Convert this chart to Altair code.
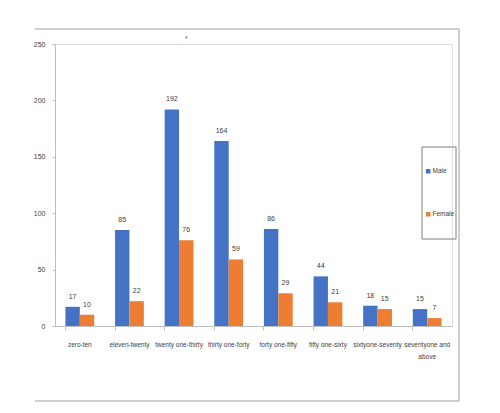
import altair as alt
import pandas as pd

# Age groups and counts by gender
age_groups = [
    "zero-ten", "eleven-twenty", "twenty one-thirty", "thirty one-forty",
    "forty one-fifty", "fifty one-sixty", "sixtyone-seventy", "seventyone and above",
]
male = [17, 85, 192, 164, 86, 44, 18, 15]
female = [10, 22, 76, 59, 29, 21, 15, 7]
genders = ["Male", "Female"]
colors = ["#4472C4", "#ED7D31"]
y_ticks = [0, 50, 100, 150, 200, 250]

FONT = "Liberation Sans"
GRAY = "#BFBFBF"
TXT = "#404040"

rows = []
for g, vals in zip(genders, [male, female]):
    for a, v in zip(age_groups, vals):
        rows.append({"age": a, "gender": g, "count": v})
df = pd.DataFrame(rows)

x_enc = alt.X(
    "age:N", sort=age_groups, title=None,
    scale=alt.Scale(paddingInner=0.42, paddingOuter=0.21),
    axis=alt.Axis(
        bandPosition=0, labelAngle=0, tickSize=4, domainColor=GRAY, tickColor=GRAY,
        labelFont=FONT, labelFontSize=6.5, labelColor=TXT, labelPadding=11,
        labelExpr="datum.label == 'seventyone and above' ? ['seventyone and', 'above'] : datum.label",
        labelLineHeight=12,
    ),
)
y_enc = alt.Y(
    "count:Q", title=None, scale=alt.Scale(domain=[0, 250], nice=False),
    axis=alt.Axis(
        values=y_ticks, grid=False, tickSize=3, labelPadding=7,
        domainColor=GRAY, tickColor=GRAY, labelFont=FONT, labelFontSize=7, labelColor=TXT,
    ),
)
xoff = alt.XOffset("gender:N", sort=genders, scale=alt.Scale(paddingInner=0))

base = alt.Chart(df).encode(x=x_enc, xOffset=xoff, y=y_enc)

bars = base.mark_bar().encode(
    color=alt.Color(
        "gender:N", sort=genders,
        scale=alt.Scale(domain=genders, range=colors),
        legend=alt.Legend(
            title=None, orient="none", legendX=370, legendY=124,
            padding=0, rowPadding=36,
            symbolType="square", symbolSize=20, labelFont=FONT, labelFontSize=6.5,
            labelColor=TXT, labelOffset=1,
        ),
    )
)

labels = base.mark_text(
    baseline="bottom", dy=-7, font=FONT, fontSize=7, color=TXT
).encode(text="count:Q")

marker_df = pd.DataFrame({"age": ["twenty one-thirty"], "gender": ["Female"], "count": [251]})
marker = alt.Chart(marker_df).mark_text(
    text="*", color="#E0403A", fontSize=8, baseline="bottom"
).encode(x=alt.X("age:N", sort=age_groups), xOffset=alt.XOffset("gender:N", sort=genders), y="count:Q")

# legend box drawn by hand
legend_box = alt.Chart().mark_rect(fill=None, stroke="#7F7F7F", strokeWidth=1).encode(
    x=alt.value(367), x2=alt.value(401), y=alt.value(103), y2=alt.value(195))

frame_top = alt.Chart().mark_rule(color=GRAY, strokeWidth=1.5).encode(
    x=alt.value(-20), x2=alt.value(404), y=alt.value(-15))
frame_right = alt.Chart().mark_rule(color=GRAY, strokeWidth=1.5).encode(
    x=alt.value(404), y=alt.value(-15), y2=alt.value(357))
frame_bottom = alt.Chart().mark_rule(color=GRAY, strokeWidth=1.5).encode(
    x=alt.value(-20), x2=alt.value(404), y=alt.value(357))

chart = alt.layer(bars, labels, marker, legend_box, frame_top, frame_right, frame_bottom).properties(
    width=397, height=282,
    autosize=alt.AutoSizeParams(type="none"),
    padding={"left": 47, "top": 36, "right": 40, "bottom": 80},
).configure_view(strokeWidth=0).configure(background="white")

chart.save("out.html", embed_options={"renderer": "svg", "actions": False})
